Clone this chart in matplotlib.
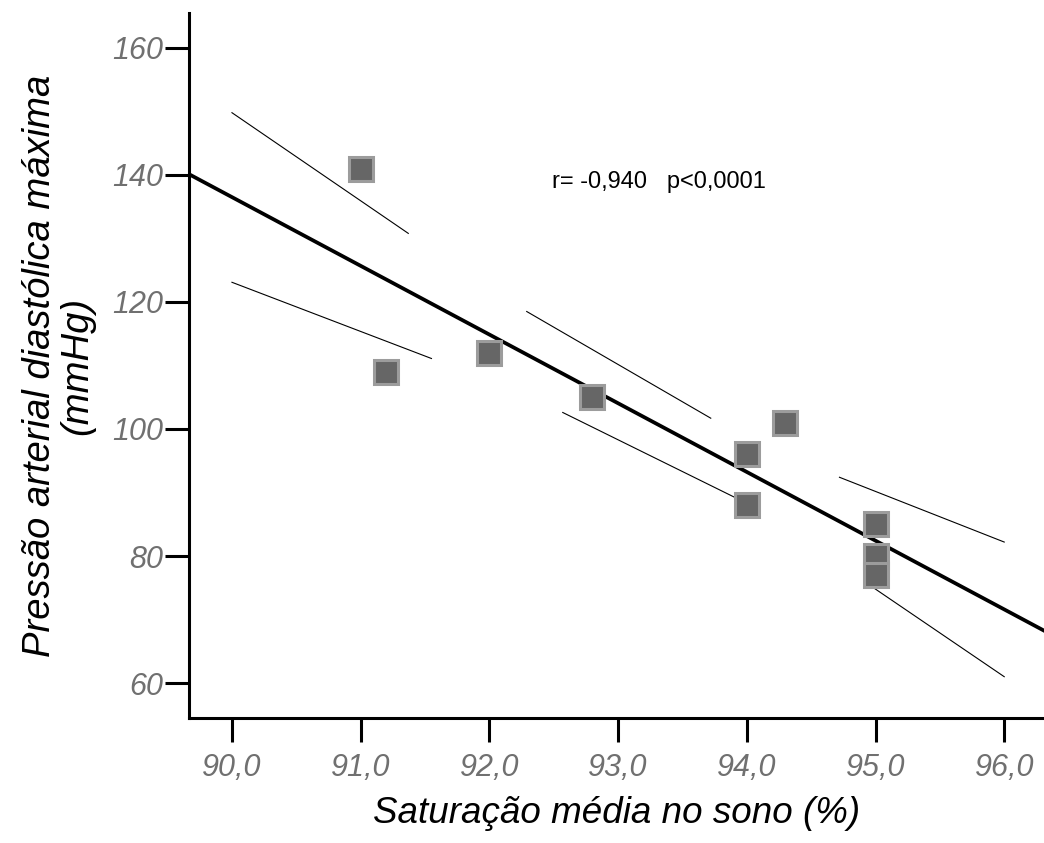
import numpy as np
import matplotlib
matplotlib.use('Agg')
import matplotlib.pyplot as plt

# saturation (%) vs max diastolic pressure (mmHg)
sat = [91.0, 91.2, 92.0, 92.8, 94.0, 94.0, 94.3, 95.0, 95.0, 95.0]
pad_max = [141, 109, 112, 105, 96, 88, 101, 85, 80, 77]

# piecewise band segments: (x0, x1, y0, y1)
band_upper = [(90.0, 91.37, 149.8, 130.8),
              (92.29, 93.72, 118.5, 101.7),
              (94.72, 96.0, 92.4, 82.2)]
band_lower = [(90.0, 91.55, 123.1, 111.1),
              (92.57, 93.95, 102.6, 88.8),
              (94.97, 96.0, 75.2, 61.0)]

xticks = [90.0, 91.0, 92.0, 93.0, 94.0, 95.0, 96.0]
yticks = [60, 80, 100, 120, 140, 160]

plt.rcParams['font.family'] = ['Liberation Sans', 'DejaVu Sans']

fig = plt.figure(figsize=(10.44, 8.43), dpi=100, facecolor='white')
ax = fig.add_axes([0.181, 0.1483, 0.819, 0.8363])

x = np.array(sat)
y = np.array(pad_max)

# least squares line over the full x range
slope, intercept = np.polyfit(x, y, 1)
xlim = (89.666, 96.309)
xl = np.array(xlim)
ax.plot(xl, slope * xl + intercept, color='black', linewidth=2.7, zorder=2)

for x0, x1, y0, y1 in band_upper + band_lower:
    ax.plot([x0, x1], [y0, y1], color='black', linewidth=0.8, zorder=1)

ax.plot(x, y, linestyle='none', marker='s', markersize=16.6,
        markerfacecolor='#666666', markeredgecolor='#9c9c9c',
        markeredgewidth=2.2, zorder=3)

ax.text(92.49, 138.9, 'r= -0,940   p<0,0001', fontsize=17, color='black',
        ha='left', va='center')

ax.set_xlim(*xlim)
ax.set_ylim(54.5, 165.5)
ax.set_xticks(xticks)
ax.set_xticklabels([f'{t:.1f}'.replace('.', ',') for t in xticks])
ax.set_yticks(yticks)
ax.set_yticklabels([str(t) for t in yticks])

for s in ['top', 'right']:
    ax.spines[s].set_visible(False)
for s in ['left', 'bottom']:
    ax.spines[s].set_linewidth(2.2)

ax.tick_params(axis='both', length=17.3, width=2.2, labelsize=22,
               labelcolor='#707070', color='black')
ax.tick_params(axis='x', pad=8)
ax.tick_params(axis='y', pad=1.5)
for lab in ax.get_xticklabels() + ax.get_yticklabels():
    lab.set_style('italic')

ax.set_xlabel('Saturação média no sono (%)', fontsize=26.5, style='italic',
              labelpad=9)
ax.set_ylabel('Pressão arterial diastólica máxima\n(mmHg)', fontsize=27.5,
              style='italic', labelpad=12, linespacing=1.05)

fig.savefig('out.png', dpi=100, facecolor='white')
